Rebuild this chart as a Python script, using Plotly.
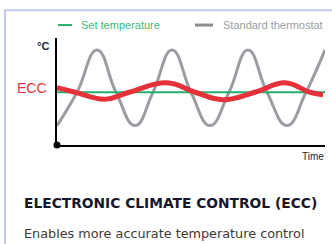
import plotly.graph_objects as go

# ---- data ----
time_std = [0, 20, 40, 59, 78, 96, 115, 134, 153, 172, 191, 210, 230, 249, 268]
temp_std = [16.65, 20.0, 24.25, 20.0, 16.65, 20.0, 24.25, 20.0, 16.65, 20.0, 24.25, 20.0, 16.65, 20.0, 24.25]

time_ecc = [0, 18, 48, 72, 110, 138, 166, 198, 228, 253, 266]
temp_ecc = [20.45, 20.0, 19.3, 20.0, 20.95, 20.0, 19.25, 20.0, 20.95, 20.0, 19.75]

time_set = [0, 268]
temp_set = [20.0, 20.0]

legend_labels = ["Set temperature", "Standard thermostat"]
title_text = "ELECTRONIC CLIMATE CONTROL (ECC)"
subtitle_text = "Enables more accurate temperature control"

W, H = 332, 244
L, R, T, B = 57, 325, 38, 145.5
X0, X1 = 0, 268
Y0, Y1 = 14.7, 25.45

def px(x):
    return (x - L) / (R - L)

def py(y):
    return (B - y) / (B - T)

GREEN = "#22b06a"
GRAY = "#9a9ea2"
RED = "#e5323a"

fig = go.Figure()
fig.add_trace(go.Scatter(x=time_std, y=temp_std, mode="lines",
                         line=dict(color=GRAY, width=3, shape="spline", smoothing=1.3),
                         showlegend=False, hoverinfo="skip"))
fig.add_trace(go.Scatter(x=time_set, y=temp_set, mode="lines",
                         line=dict(color=GREEN, width=2),
                         showlegend=False, hoverinfo="skip"))
fig.add_trace(go.Scatter(x=time_ecc, y=temp_ecc, mode="lines",
                         line=dict(color=RED, width=5, shape="spline", smoothing=1.2),
                         showlegend=False, hoverinfo="skip"))
fig.add_trace(go.Scatter(x=[X0], y=[Y0], mode="markers",
                         marker=dict(color="black", size=7),
                         cliponaxis=False, showlegend=False, hoverinfo="skip"))

shapes = [
    # outer frame
    dict(type="rect", xref="paper", yref="paper",
         x0=px(5), x1=px(340), y0=py(10), y1=py(260),
         line=dict(color="#c2c8ec", width=2), fillcolor="rgba(0,0,0,0)", layer="below"),
    # legend swatches
    dict(type="line", xref="paper", yref="paper", x0=px(58), x1=px(72), y0=py(25), y1=py(25),
         line=dict(color=GREEN, width=2)),
    dict(type="line", xref="paper", yref="paper", x0=px(195), x1=px(213), y0=py(25), y1=py(25),
         line=dict(color="#8a8e92", width=3)),
]

annotations = [
    dict(text=legend_labels[0], x=px(79), y=py(25), xanchor="left", yanchor="middle",
         font=dict(family="Liberation Sans Narrow, Liberation Sans", size=11, color="#3dbb78")),
    dict(text=legend_labels[1], x=px(221), y=py(25), xanchor="left", yanchor="middle",
         font=dict(family="Liberation Sans Narrow, Liberation Sans", size=11, color="#9a9ea2")),
    dict(text="<b>°C</b>", x=px(51), y=py(46), xanchor="right", yanchor="middle",
         font=dict(family="Liberation Sans Narrow, Liberation Sans", size=11, color="#1c2440")),
    dict(text="ECC", x=px(49), y=py(88), xanchor="right", yanchor="middle",
         font=dict(family="Liberation Sans", size=14, color=RED)),
    dict(text="Time", x=px(326), y=py(157), xanchor="right", yanchor="middle",
         font=dict(family="Liberation Sans Narrow, Liberation Sans", size=10, color="#1c2440")),
    dict(text="<b>" + title_text + "</b>", x=px(22), y=py(203.5), xanchor="left", yanchor="middle",
         font=dict(family="DejaVu Sans", size=13.8, color="#16182a")),
    dict(text=subtitle_text, x=px(22), y=py(234), xanchor="left", yanchor="middle",
         font=dict(family="DejaVu Sans", size=12.8, color="#3a3a3a")),
]
for a in annotations:
    a.update(xref="paper", yref="paper", showarrow=False)

fig.update_layout(
    width=W, height=H,
    margin=dict(l=L, r=W - R, t=T, b=H - B, pad=0),
    paper_bgcolor="white", plot_bgcolor="white",
    xaxis=dict(range=[X0, X1], showline=True, linecolor="black", linewidth=2,
               showgrid=False, zeroline=False, showticklabels=False, ticks=""),
    yaxis=dict(range=[Y0, Y1], showline=True, linecolor="black", linewidth=2,
               showgrid=False, zeroline=False, showticklabels=False, ticks=""),
    shapes=shapes, annotations=annotations,
)

fig.write_html("out.html", config={"displayModeBar": False},
               post_script="document.body.style.margin='0';document.body.style.overflow='hidden';")
